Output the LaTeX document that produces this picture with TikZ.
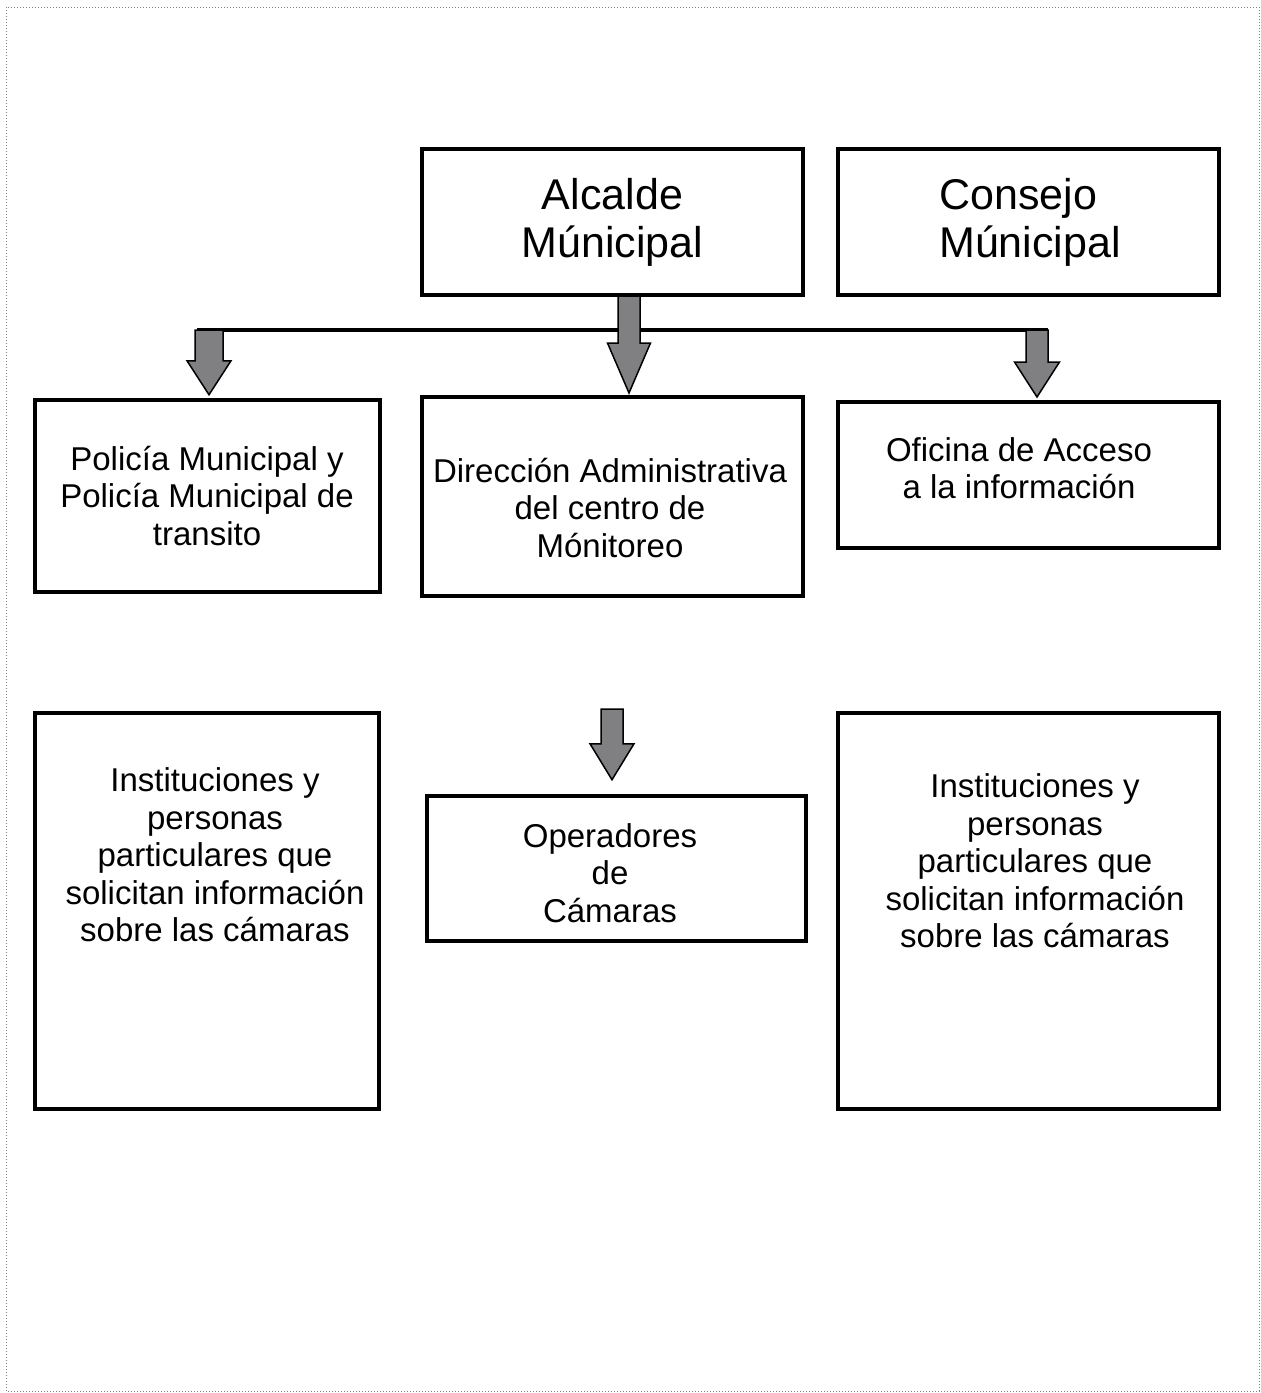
\documentclass[tikz,border=0pt]{standalone}
\usepackage{fontspec}
\setmainfont{Liberation Sans}
\usetikzlibrary{calc}
\definecolor{arrowgray}{RGB}{128,128,131}
\newcommand\blockarr[5]{% #1 top coord, #2 tip coord, #3 head length, #4 shaft half width, #5 head half width
  \path[barrow] let \p1=(#1), \p2=(#2) in
    (\x2-#4pt,\y1) -- (\x2+#4pt,\y1) -- (\x2+#4pt,\y2+#3pt) -- (\x2+#5pt,\y2+#3pt)
    -- (\x2,\y2) -- (\x2-#5pt,\y2+#3pt) -- (\x2-#4pt,\y2+#3pt) -- cycle;}
\begin{document}
\begin{tikzpicture}[x=1pt,y=-1pt,
  box/.style={draw=black,line width=4.5pt,inner sep=0pt,rectangle},
  big/.style={font=\fontsize{43}{48}\selectfont,align=center,inner sep=0pt},
  txt/.style={font=\fontsize{33}{37.5}\selectfont,align=center,inner sep=0pt},
  barrow/.style={fill=arrowgray,draw=black,line width=1.5pt,line join=miter},
  hline/.style={draw=black,line width=4pt}]
\useasboundingbox (0,0) rectangle (1261,1393);
\draw[gray,dotted,line width=1pt] (6,7) rectangle (1259,1391);

% boxes
\node[box,minimum width=381pt,minimum height=146pt] (alc) at (612.5,222) {};
\node[box,minimum width=381pt,minimum height=146pt] (con) at (1028.5,222) {};
\node[box,minimum width=345pt,minimum height=192pt] (pol) at (207.5,496) {};
\node[box,minimum width=381pt,minimum height=199pt] (dir) at (612.5,496.5) {};
\node[box,minimum width=381pt,minimum height=146pt] (ofi) at (1028.5,475) {};
\node[box,minimum width=344pt,minimum height=396pt] (inl) at (207,911) {};
\node[box,minimum width=379pt,minimum height=145pt] (ope) at (616.5,868.5) {};
\node[box,minimum width=381pt,minimum height=396pt] (inr) at (1028.5,911) {};

% connector coordinates
\coordinate (lt) at (209,330);
\coordinate (ltip) at ($(pol.north)+(1.5,-3)$);
\coordinate (ct) at ($(alc.south)+(16.5,-2)$);
\coordinate (ctip) at (629,393);
\coordinate (rt) at (1037,330);
\coordinate (rtip) at (1037,397);
\coordinate (ot) at (612,709);
\coordinate (otip) at ($(ope.north)+(-4.5,-14)$);
\coordinate (hl) at (197,330);
\coordinate (hr) at (1048,330);

\draw[hline] (hl) -- (hr);
\blockarr{lt}{ltip}{34}{14}{22}
\blockarr{ct}{ctip}{50}{11}{21.5}
\blockarr{rt}{rtip}{35}{11}{22.5}
\blockarr{ot}{otip}{36}{11}{22}

% redraw top box border over arrow shaft
\node[box,minimum width=381pt,minimum height=146pt] at (alc) {};

% texts
\node[big] (talc) at (612.5,222) {Alcalde\\Múnicipal};
\node[big,align=left] (tcon) at (1030,222) {Consejo\\Múnicipal};
\node[txt] (tpol) at (207,496) {Policía Municipal y\\Policía Municipal de\\transito};
\node[txt] (tdir) at (610,508) {Dirección Administrativa\\del centro de\\Mónitoreo};
\node[txt] (tofi) at (1019,468) {Oficina de Acceso\\a la información};
\node[txt] (tinl) at (215,855) {Instituciones y\\personas\\particulares que\\solicitan información\\sobre las cámaras};
\node[txt] (tope) at (610,873) {Operadores\\de\\Cámaras};
\node[txt] (tinr) at (1035,861) {Instituciones y\\personas\\particulares que\\solicitan información\\sobre las cámaras};
\end{tikzpicture}
\end{document}
